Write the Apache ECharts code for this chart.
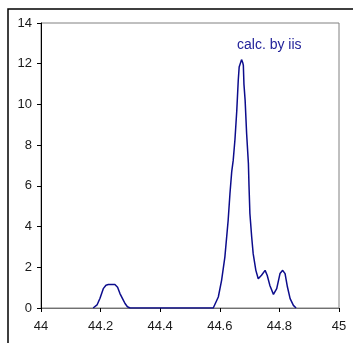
<!DOCTYPE html>
<html>
<head>
<meta charset="utf-8">
<script src="https://cdn.jsdelivr.net/npm/echarts@6/dist/echarts.min.js"></script>
<style>
html,body{margin:0;padding:0;background:#fff;}
#c{width:353px;height:343px;}
</style>
</head>
<body>
<div id="c"></div>
<script>
// Data
var xValues = [44.175, 44.188, 44.198, 44.209, 44.218, 44.226, 44.237, 44.248, 44.257, 44.265, 44.274, 44.282, 44.290, 44.299,
  44.400, 44.500, 44.578, 44.595, 44.606, 44.617, 44.628, 44.634, 44.640, 44.645, 44.651, 44.657, 44.662, 44.665, 44.669,
  44.673, 44.677, 44.679, 44.681, 44.685, 44.690, 44.696, 44.698, 44.701, 44.707, 44.712, 44.721, 44.729, 44.740,
  44.752, 44.759, 44.768, 44.780, 44.791, 44.802, 44.811, 44.819, 44.827, 44.836, 44.847, 44.856];
var yValues = [0.0, 0.15, 0.48, 0.95, 1.12, 1.15, 1.16, 1.15, 1.02, 0.71, 0.45, 0.22, 0.06, 0.0,
  0.0, 0.0, 0.0, 0.54, 1.36, 2.5, 4.3, 5.6, 6.7, 7.25, 8.3, 9.7, 11.2, 11.84, 11.9,
  12.2, 12.05, 11.92, 11.0, 10.2, 8.57, 7.09, 6.0, 4.64, 3.49, 2.67, 1.85, 1.44, 1.61,
  1.85, 1.61, 1.11, 0.67, 0.95, 1.69, 1.85, 1.69, 1.03, 0.46, 0.13, 0.0];
var xTicks = {min: 44, max: 45, step: 0.2};
var yTicks = {min: 0, max: 14, step: 2};
var annotation = 'calc. by iis';

var seriesData = xValues.map(function (x, i) { return [x, yValues[i]]; });

var chart = echarts.init(document.getElementById('c'), null, {renderer: 'canvas'});
chart.setOption({
  animation: false,
  backgroundColor: '#ffffff',
  grid: {left: 41, top: 23, right: 14, bottom: 35, show: true, borderColor: '#808080', borderWidth: 1, backgroundColor: 'transparent'},
  xAxis: {
    type: 'value', min: xTicks.min, max: xTicks.max, interval: xTicks.step,
    axisLine: {show: true, lineStyle: {color: '#707070', width: 1}},
    axisTick: {show: true, inside: false, length: 4, lineStyle: {color: '#000000'}},
    splitLine: {show: false},
    axisLabel: {color: '#1a1a1a', fontFamily: 'Liberation Sans, Arial, sans-serif', fontSize: 13, margin: 12,
      formatter: function (v) { return String(Math.round(v * 10) / 10); }}
  },
  yAxis: {
    type: 'value', min: yTicks.min, max: yTicks.max, interval: yTicks.step,
    axisLine: {show: true, lineStyle: {color: '#000000', width: 1}},
    axisTick: {show: true, inside: false, length: 4, lineStyle: {color: '#000000'}},
    splitLine: {show: false},
    axisLabel: {color: '#1a1a1a', fontFamily: 'Liberation Sans, Arial, sans-serif', fontSize: 13, margin: 9}
  },
  series: [{
    type: 'line', data: seriesData, showSymbol: false, smooth: false,
    lineStyle: {color: '#0c0c8c', width: 1.5}
  }],
  graphic: [
    {type: 'rect', shape: {x: 8, y: 9, width: 400, height: 400}, style: {fill: 'none', stroke: '#000000', lineWidth: 1.5}, z: 100},
    {type: 'text', left: 237, top: 38, style: {text: annotation, fill: '#22229a', font: '14px "Liberation Sans", Arial, sans-serif'}, z: 100}
  ]
});
</script>
</body>
</html>
